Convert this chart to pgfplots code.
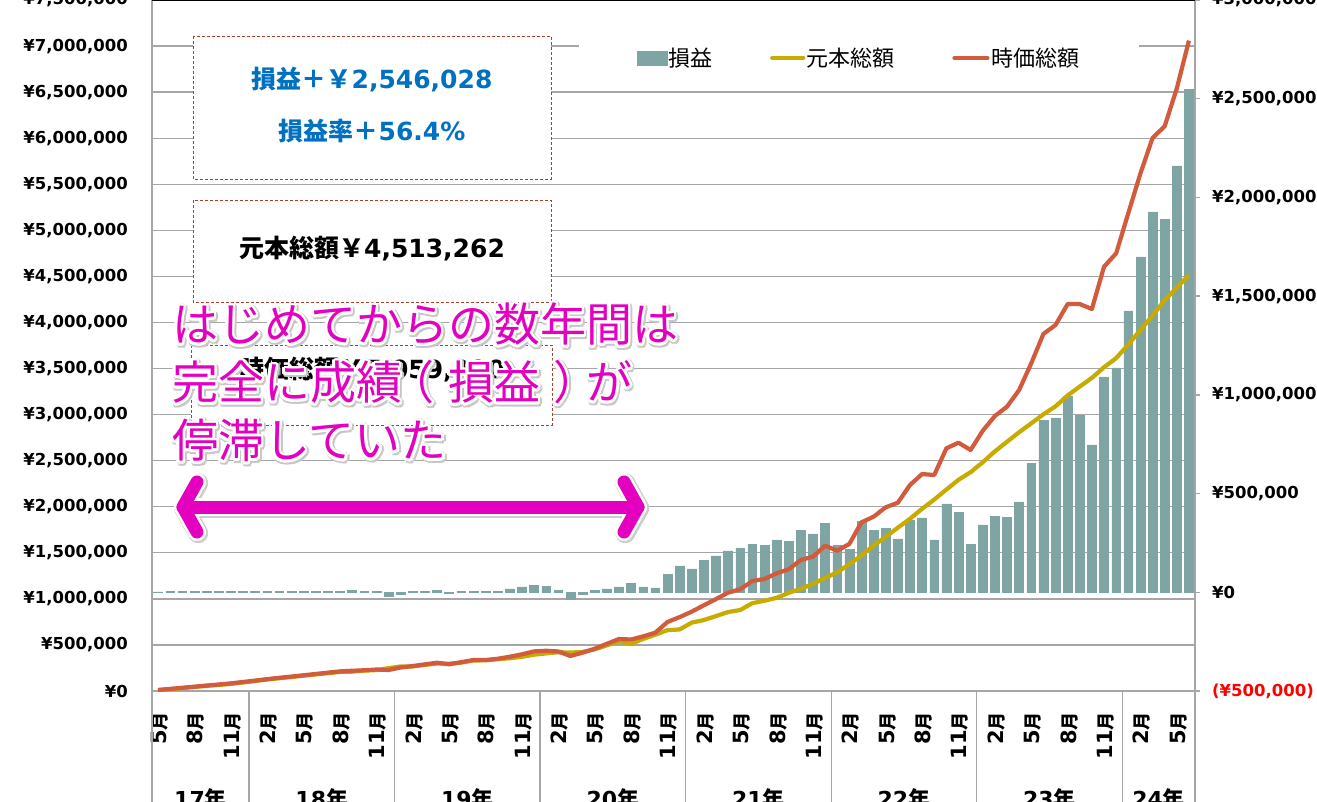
\documentclass[border=0pt]{standalone}
\usepackage{pgfplots}
\pgfplotsset{compat=1.18}
\usepackage{pgfplotstable}
\usetikzlibrary{calc}
\usepackage{fontspec}
\setmainfont{DejaVu Sans}
\newfontfamily\jp{Noto Sans CJK JP}

\definecolor{barc}{HTML}{7FA4A4}
\definecolor{yel}{HTML}{C8AB00}
\definecolor{redl}{HTML}{D25B3E}
\definecolor{bluet}{HTML}{0070C0}
\definecolor{pinkc}{HTML}{E400BF}
\definecolor{boxb}{HTML}{A0442A}
\definecolor{gridc}{HTML}{A6A6A6}

\pgfplotstableread{
i B P M
0 2000 9000 11000
1 3000 20000 23000
2 4000 31000 35000
3 3000 44000 47000
4 3000 56000 59000
5 6000 65000 71000
6 6000 77000 83000
7 6000 92000 98000
8 5000 108000 113000
9 4000 125000 129000
10 4000 139000 143000
11 6000 151000 157000
12 5000 166000 171000
13 5000 180000 185000
14 6000 193000 199000
15 6000 207000 213000
16 10000 210000 220000
17 4000 221000 225000
18 6000 227000 233000
19 -20000 248000 228000
20 -12000 267000 255000
21 4000 267000 271000
22 6000 283000 289000
23 9000 298000 307000
24 -6000 296000 290000
25 5000 308000 313000
26 5000 331000 336000
27 3000 333000 336000
28 5000 345000 350000
29 17000 355000 372000
30 27000 371000 398000
31 36000 394000 430000
32 29000 408000 437000
33 8000 421000 429000
34 -37000 417000 380000
35 -8000 424000 416000
36 8000 451000 459000
37 17000 495000 512000
38 27000 537000 564000
39 47000 512000 559000
40 28000 565000 593000
41 22000 611000 633000
42 89000 660000 749000
43 134000 668000 802000
44 119000 742000 861000
45 160000 770000 930000
46 185000 813000 998000
47 210000 857000 1067000
48 225000 879000 1104000
49 241000 953000 1194000
50 236000 980000 1216000
51 266000 1011000 1277000
52 256000 1065000 1321000
53 312000 1110000 1422000
54 296000 1162000 1458000
55 350000 1227000 1577000
56 236000 1287000 1523000
57 219000 1377000 1596000
58 361000 1470000 1831000
59 312000 1580000 1892000
60 322000 1672000 1994000
61 271000 1773000 2044000
62 367000 1869000 2236000
63 377000 1978000 2355000
64 266000 2078000 2344000
65 448000 2186000 2634000
66 403000 2292000 2695000
67 241000 2375000 2616000
68 342000 2483000 2825000
69 384000 2601000 2985000
70 381000 2705000 3086000
71 458000 2809000 3267000
72 652000 2905000 3557000
73 872000 3003000 3875000
74 884000 3089000 3973000
75 992000 3208000 4200000
76 896000 3304000 4200000
77 747000 3399000 4146000
78 1091000 3514000 4605000
79 1137000 3613000 4750000
80 1426000 3760000 5186000
81 1699000 3918000 5617000
82 1927000 4075000 6002000
83 1890000 4240000 6130000
84 2160000 4380000 6540000
85 2546028 4513262 7059290
}\datatable

\newcommand{\mo}[1]{\textbf{#1}{\jp\bfseries\fontsize{18}{18}\selectfont 月}}
\newcommand{\tickfont}{\fontsize{16.5}{16.5}\selectfont\bfseries}
\newcommand{\pfont}{\jp\fontsize{46}{46}\selectfont}
\newcommand{\pinkline}[3]{%
  \foreach \a in {0,30,...,330}{\node[anchor=base west, inner sep=0pt, text=black!22, font=\pfont] at ($(#1pt,-#2pt)+(\a:3.4pt)+(1.2pt,-1.2pt)$) {#3};}%
  \foreach \a in {0,22.5,...,337.5}{\node[anchor=base west, inner sep=0pt, text=white, font=\pfont] at ($(#1pt,-#2pt)+(\a:2.8pt)$) {#3};}%
  \node[anchor=base west, inner sep=0pt, text=pinkc, font=\pfont] at (#1pt,-#2pt) {#3};}
\newcommand{\lp}{\makebox[1em][l]{\kern-0.3em （}}
\newcommand{\rp}{\makebox[1em][l]{\kern0.28em ）}}

\begin{document}
\begin{tikzpicture}
\useasboundingbox (-152pt,-110pt) rectangle (1165pt,691pt);

% ---- base axis: left scale, grid, month labels
\begin{axis}[
  at={(0pt,0pt)}, anchor=south west,
  scale only axis, width=1043pt, height=691pt,
  xmin=-0.5, xmax=85.5, ymin=0, ymax=7500000,
  clip=false,
  axis line style={draw=gridc, line width=1.3pt},
  xtick pos=left, ytick pos=left,
  major tick length=0pt,
  xtick={0,3,...,84},
  xticklabels={\mo{5},\mo{8},\mo{11},
    \mo{2},\mo{5},\mo{8},\mo{11},
    \mo{2},\mo{5},\mo{8},\mo{11},
    \mo{2},\mo{5},\mo{8},\mo{11},
    \mo{2},\mo{5},\mo{8},\mo{11},
    \mo{2},\mo{5},\mo{8},\mo{11},
    \mo{2},\mo{5},\mo{8},\mo{11},
    \mo{2},\mo{5}},
  xticklabel style={yshift=-21pt, xshift=1.5pt, rotate=90, anchor=east, inner sep=0pt, font=\fontsize{21}{21}\selectfont},
  ytick={0,500000,1000000,1500000,2000000,2500000,3000000,3500000,4000000,4500000,5000000,5500000,6000000,6500000,7000000,7500000},
  yticklabels={{¥0},{¥500,000},{¥1,000,000},{¥1,500,000},{¥2,000,000},{¥2,500,000},{¥3,000,000},{¥3,500,000},{¥4,000,000},{¥4,500,000},{¥5,000,000},{¥5,500,000},{¥6,000,000},{¥6,500,000},{¥7,000,000},{¥7,500,000}},
  yticklabel style={anchor=east, inner sep=0pt, xshift=-24pt, font=\tickfont},
  ymajorgrids, grid style={draw=gridc, line width=1.3pt},
  scaled y ticks=false,
]
\pgfplotsinvokeforeach{-0.5,7.5,19.5,31.5,43.5,55.5,67.5,79.5,85.5}{
  \draw[gridc, line width=1.3pt] (axis cs:#1,0) -- ++(0pt,-130pt);
}
\node[anchor=north, inner sep=0pt, font=\fontsize{22}{22}\selectfont\bfseries] at (axis cs:3.5,0) [yshift=-97pt] {17{\jp 年}};
\node[anchor=north, inner sep=0pt, font=\fontsize{22}{22}\selectfont\bfseries] at (axis cs:13.5,0) [yshift=-97pt] {18{\jp 年}};
\node[anchor=north, inner sep=0pt, font=\fontsize{22}{22}\selectfont\bfseries] at (axis cs:25.5,0) [yshift=-97pt] {19{\jp 年}};
\node[anchor=north, inner sep=0pt, font=\fontsize{22}{22}\selectfont\bfseries] at (axis cs:37.5,0) [yshift=-97pt] {20{\jp 年}};
\node[anchor=north, inner sep=0pt, font=\fontsize{22}{22}\selectfont\bfseries] at (axis cs:49.5,0) [yshift=-97pt] {21{\jp 年}};
\node[anchor=north, inner sep=0pt, font=\fontsize{22}{22}\selectfont\bfseries] at (axis cs:61.5,0) [yshift=-97pt] {22{\jp 年}};
\node[anchor=north, inner sep=0pt, font=\fontsize{22}{22}\selectfont\bfseries] at (axis cs:73.5,0) [yshift=-97pt] {23{\jp 年}};
\node[anchor=north, inner sep=0pt, font=\fontsize{22}{22}\selectfont\bfseries] at (axis cs:82.5,0) [yshift=-97pt] {24{\jp 年}};
\end{axis}

% ---- right axis with bars
\begin{axis}[
  at={(0pt,0pt)}, anchor=south west,
  scale only axis, width=1043pt, height=691pt,
  xmin=-0.5, xmax=85.5, ymin=-500000, ymax=3000000,
  axis x line=none, axis y line*=right,
  y axis line style={draw=gridc, line width=1.3pt},
  ytick={-500000,0,500000,1000000,1500000,2000000,2500000,3000000},
  yticklabels={{\color{red}(¥500,000)},{¥0},{¥500,000},{¥1,000,000},{¥1,500,000},{¥2,000,000},{¥2,500,000},{¥3,000,000}},
  tick align=outside, major tick length=5pt,
  ytick style={draw=gridc, line width=1.3pt},
  yticklabel style={anchor=west, inner sep=0pt, xshift=12pt, font=\tickfont},
  scaled y ticks=false,
]
\addplot[ybar, bar width=8.8pt, fill=barc, draw=barc, line width=0.5pt] table[x=i,y=B]{\datatable};
\end{axis}

% ---- lines on left scale, legend
\begin{axis}[
  at={(0pt,0pt)}, anchor=south west,
  scale only axis, width=1043pt, height=691pt,
  xmin=-0.5, xmax=85.5, ymin=0, ymax=7500000,
  hide axis,
  legend columns=3,
  legend style={at={(0.6775,0.916)}, anchor=center, draw=none, fill=white,
    inner xsep=58pt, inner ysep=15pt,
    font=\jp\fontsize{22}{22}\selectfont,
    nodes={inner xsep=1.5pt, inner ysep=0pt},
    /tikz/every even column/.append style={column sep=56pt}},
]
\addlegendimage{legend image code/.code={\fill[barc] (0pt,-7pt) rectangle (30pt,7pt);}}
\addlegendentry{損益}
\addplot[yel, line width=4.2pt, line join=round, mark=none,
  legend image code/.code={\draw[yel, line width=4.2pt, line cap=round] (0pt,0pt) -- (31pt,0pt);}]
  table[x=i,y=P]{\datatable};
\addlegendentry{元本総額}
\addplot[redl, line width=4.2pt, line join=round, mark=none,
  legend image code/.code={\draw[redl, line width=4.2pt, line cap=round] (0pt,0pt) -- (33pt,0pt);}]
  table[x=i,y=M]{\datatable};
\addlegendentry{時価総額}
\end{axis}

% top border
\draw[black, line width=2pt] (0pt,691pt) -- (1043pt,691pt);

% ---- overlays in image coordinates
\begin{scope}[shift={(-152pt,691pt)}]
\draw[boxb, line width=0.9pt, dash pattern=on 3pt off 2pt, fill=white] (193pt,-36pt) rectangle (551pt,-179pt);
\node[text=bluet, font=\fontsize{25}{25}\selectfont\bfseries] at (372pt,-80pt) {{\jp 損益＋￥}2,546,028};
\node[text=bluet, font=\fontsize{25}{25}\selectfont\bfseries] at (372pt,-131pt) {{\jp 損益率＋}56.4\%};

\draw[boxb, line width=0.9pt, dash pattern=on 3pt off 2pt, fill=white] (193pt,-200pt) rectangle (551pt,-302pt);
\node[text=black, font=\fontsize{25}{25}\selectfont\bfseries] at (372pt,-249pt) {{\jp 元本総額￥}4,513,262};
\draw[boxb, line width=0.9pt, dash pattern=on 3pt off 2pt, fill=white] (191pt,-345pt) rectangle (552pt,-425pt);
\node[text=black, font=\fontsize{25}{25}\selectfont\bfseries] at (372pt,-370pt) {{\jp 時価総額￥}7,059,290};

\pinkline{172}{342}{はじめてからの数年間は}
\pinkline{172}{400}{完全に成績\lp 損益\rp が}
\pinkline{172}{458}{停滞していた}

% double arrow
\begin{scope}[line cap=round, line join=round]
\draw[black!20, line width=20pt, shift={(1.2pt,-1.2pt)}] (197pt,-482pt) -- (183pt,-507pt) -- (197pt,-532pt);
\draw[black!20, line width=20pt, shift={(1.2pt,-1.2pt)}] (624pt,-482pt) -- (638pt,-507pt) -- (624pt,-532pt);
\draw[black!20, line width=20pt, shift={(1.2pt,-1.2pt)}] (183pt,-507pt) -- (638pt,-507pt);
\draw[white, line width=18pt] (197pt,-482pt) -- (183pt,-507pt) -- (197pt,-532pt);
\draw[white, line width=18pt] (624pt,-482pt) -- (638pt,-507pt) -- (624pt,-532pt);
\draw[white, line width=18pt] (183pt,-507pt) -- (638pt,-507pt);
\draw[pinkc, line width=13pt] (197pt,-482pt) -- (183pt,-507pt) -- (197pt,-532pt);
\draw[pinkc, line width=13pt] (624pt,-482pt) -- (638pt,-507pt) -- (624pt,-532pt);
\draw[pinkc, line width=13pt] (183pt,-507pt) -- (638pt,-507pt);
\end{scope}
\end{scope}
\end{tikzpicture}
\end{document}
